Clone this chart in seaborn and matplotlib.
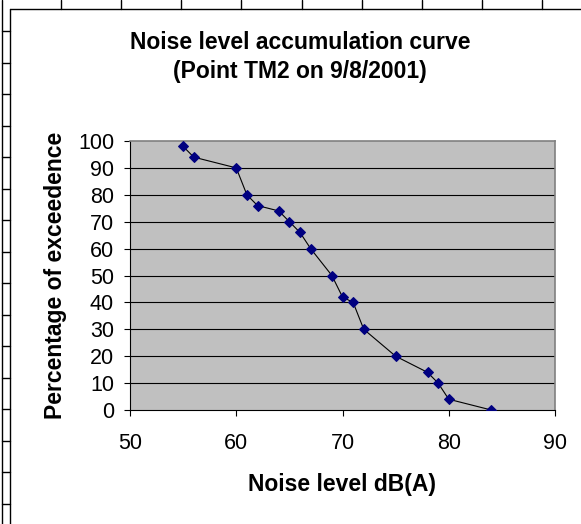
import matplotlib
matplotlib.use("Agg")
import matplotlib.pyplot as plt
from matplotlib.lines import Line2D
import seaborn as sns
import pandas as pd

noise_db = [55, 56, 60, 61, 62, 64, 65, 66, 67, 69, 70, 71, 72, 75, 78, 79, 80, 84]
exceedence_pct = [98, 94, 90, 80, 76, 74, 70, 66, 60, 50, 42, 40, 30, 20, 14, 10, 4, 0]
x_ticks = [50, 60, 70, 80, 90]
y_ticks = [0, 10, 20, 30, 40, 50, 60, 70, 80, 90, 100]
title_text = "Noise level accumulation curve\n(Point TM2 on 9/8/2001)"
x_label = "Noise level dB(A)"
y_label = "Percentage of exceedence"

df = pd.DataFrame({"db": noise_db, "pct": exceedence_pct})

sns.set_theme(style="white")
plt.rcParams["font.family"] = ["Liberation Sans", "DejaVu Sans"]

W, H = 581, 524
fig = plt.figure(figsize=(W / 100, H / 100), dpi=100)
fig.patch.set_facecolor("white")

ax = fig.add_axes([130 / W, 1 - 410 / H, (555 - 130) / W, (410 - 141) / H])
ax.set_facecolor("#C0C0C0")

sns.lineplot(data=df, x="db", y="pct", ax=ax, sort=False, estimator=None,
             color="black", linewidth=0.8, marker="D", markersize=5.6,
             markerfacecolor="#000080", markeredgecolor="#000080", zorder=3)

ax.set_xlim(50, 90)
ax.set_ylim(0, 100)
ax.set_xticks(x_ticks)
ax.set_yticks(y_ticks)
ax.set_xticklabels([str(v) for v in x_ticks], fontsize=15.5)
ax.set_yticklabels([str(v) for v in y_ticks], fontsize=15.5)
ax.tick_params(axis="both", direction="out", length=4.5, width=0.8, color="black",
               labelcolor="black", bottom=True, left=True)
ax.tick_params(axis="x", pad=12)
ax.tick_params(axis="y", pad=7)

for yv in y_ticks[1:-1]:
    ax.axhline(yv, color="black", linewidth=0.8, zorder=1)

for side in ["top", "right"]:
    ax.spines[side].set_color("#808080")
    ax.spines[side].set_linewidth(1.2)
for side in ["left", "bottom"]:
    ax.spines[side].set_color("black")
    ax.spines[side].set_linewidth(0.8)

ax.set_xlabel(x_label, fontsize=16.5, fontweight="bold", labelpad=14, color="black")
ax.set_ylabel(y_label, fontsize=16.5, fontweight="bold", labelpad=8, color="black")

fig.text(300 / W, 1 - 57 / H, title_text, ha="center", va="center",
         fontsize=16.5, fontweight="bold", linespacing=1.3, color="black")

# surrounding document table / chart border decoration
def px_line(x0, y0, x1, y1, lw=1.0):
    fig.add_artist(Line2D([x0 / W, x1 / W], [1 - y0 / H, 1 - y1 / H],
                          transform=fig.transFigure, color="black", linewidth=lw))

px_line(2.5, 0, 2.5, H)
px_line(9.5, 8.5, 9.5, H)
px_line(9.5, 8.5, W, 8.5)
for yy in [31, 62.5, 94, 125.5, 157, 188.5, 220, 251.5, 283, 314.5, 346, 377.5, 409, 440.5, 472, 503.5]:
    px_line(2.5, yy, 9.5, yy)
for xx in [61, 121, 181, 241, 302, 362, 422, 482, 542]:
    px_line(xx, 0, xx, 8.5)

fig.savefig("out.png", dpi=100)
